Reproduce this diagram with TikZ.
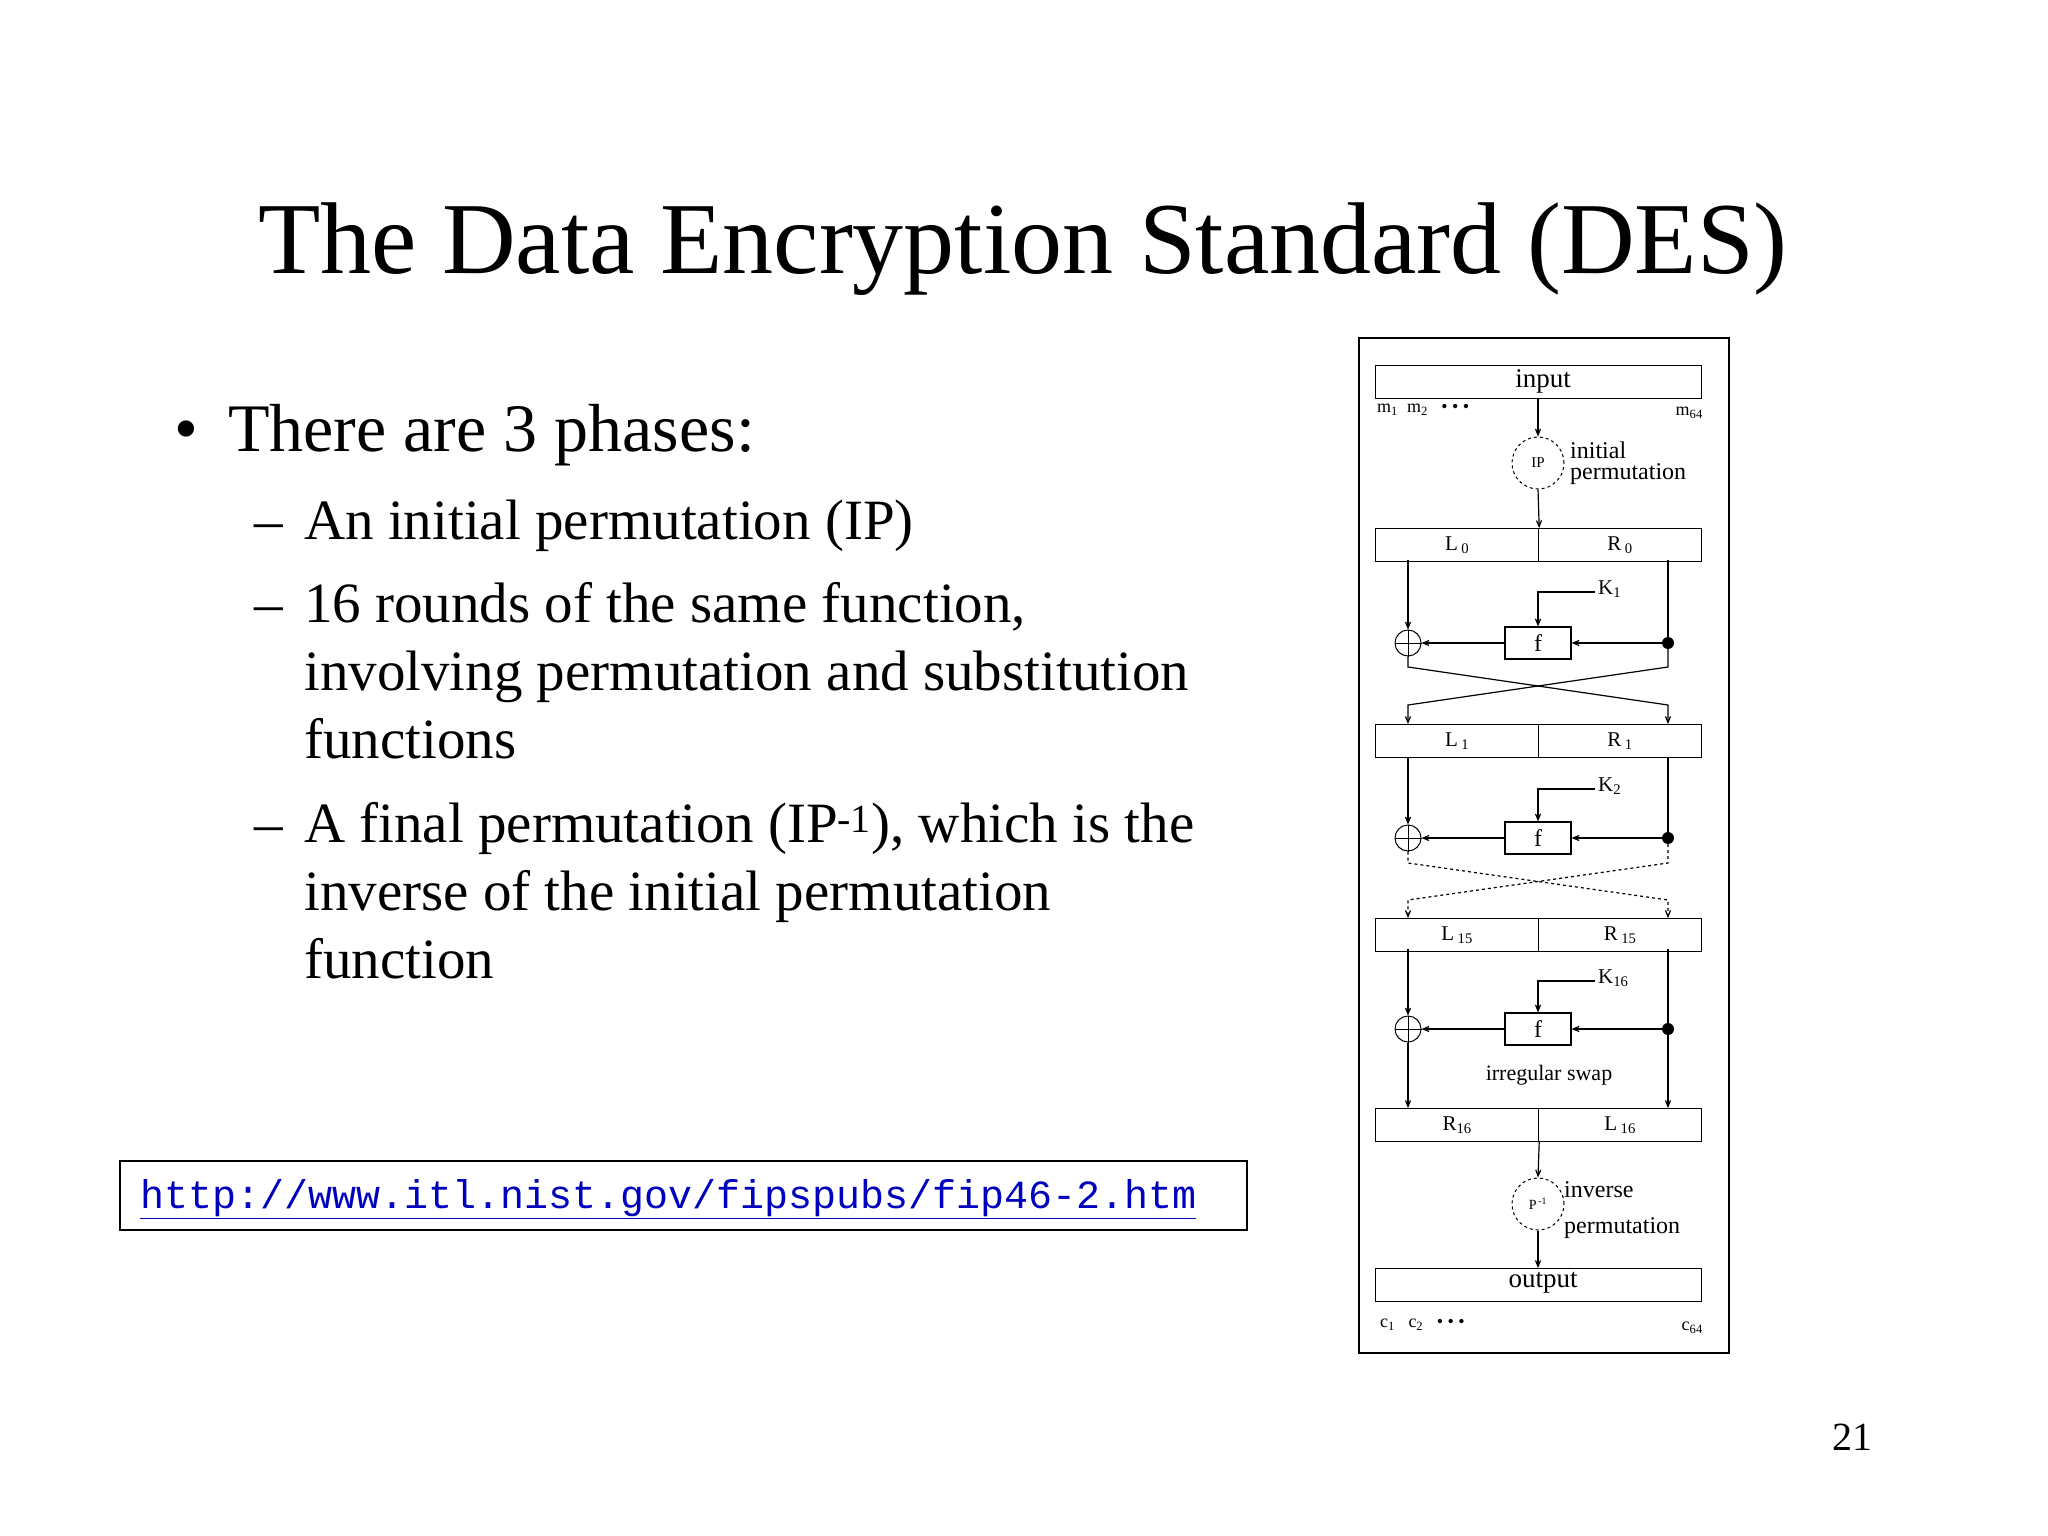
\documentclass[tikz,border=0pt]{standalone}
\usepackage{fontspec}
\setmainfont{Liberation Serif}
\setmonofont{Liberation Mono}
\usetikzlibrary{arrows.meta}
\begin{document}
\begin{tikzpicture}[x=1pt,y=-1pt,
  bx/.style={draw,line width=1.2pt,minimum height=33pt,inner sep=0pt,anchor=north west},
  half/.style={draw,line width=1.2pt,minimum height=33pt,minimum width=163pt,inner sep=0pt,anchor=north west,font=\fontsize{21}{21}\selectfont},
  ln/.style={line width=1.2pt},
  ar/.style={line width=1.2pt,-{Straight Barb[length=6pt,width=5pt]}},
  sm/.style={font=\fontsize{18}{18}\selectfont,inner sep=0pt},
  lbl/.style={font=\fontsize{24}{26}\selectfont,inner sep=1pt,align=left,anchor=west}]
\useasboundingbox (0,0) rectangle (2048,1536);
% slide text
\node (title) at (1023,249) {\fontsize{102}{110}\selectfont The Data Encryption Standard (DES)};
\node[anchor=base west,inner sep=0] (b0) at (174,451) {\fontsize{68}{74}\selectfont •};
\node[anchor=base west,inner sep=0] (t0) at (228,451) {\fontsize{68}{74}\selectfont There are 3 phases:};
\tikzset{sub/.style={anchor=base west,inner sep=0,font=\fontsize{57}{62}\selectfont}}
\node[sub] (d1) at (254,539) {–};
\node[sub] (s1) at (304,539) {An initial permutation (IP)};
\node[sub] (d2) at (254,622) {–};
\node[sub] (s2) at (304,622) {16 rounds of the same function,};
\node[sub] (s2b) at (304,690) {involving permutation and substitution};
\node[sub] (s2c) at (304,758) {functions};
\node[sub] (d3) at (254,842) {–};
\node[sub] (s3) at (304,842) {A final permutation (IP\textsuperscript{-1}), which is the};
\node[sub] (s3b) at (304,910) {inverse of the initial permutation};
\node[sub] (s3c) at (304,978) {function};
\node[draw,line width=1.5pt,minimum width=1127pt,minimum height=69pt,anchor=north west] (ubox) at (119,1160) {};
\node[anchor=west,inner sep=0,text=blue!75!black] (url) at (140,1199) {\fontsize{40}{42}\selectfont\ttfamily\underline{http://www.itl.nist.gov/fipspubs/fip46-2.htm}};
\node (pg) at (1852,1437) {\fontsize{40}{40}\selectfont 21};
% diagram frame
\node[draw,line width=2pt,minimum width=370pt,minimum height=1015pt,anchor=north west,inner sep=0] (frame) at (1358,337) {};
% boxes
\node[bx,minimum width=326pt] (in) at (1375,365) {};
\node[font=\fontsize{27}{27}\selectfont] (intext) at (1543,381) {input};
\node[sm,anchor=west] (m1) at (1377,410) {m\textsubscript{1}\ \ m\textsubscript{2}\ \ \ \textbullet\ \textbullet\ \textbullet};
\node[sm,anchor=east] (m64) at (1703,413) {m\textsubscript{64}};
\node[draw,dashed,line width=1pt,circle,minimum size=52pt,inner sep=0] (P) at (1538,463) {\fontsize{15}{15}\selectfont IP};
\node[lbl] (ptext) at (1569,463) {initial\\[-5pt]permutation};
\newcommand{\rowbox}[4]{%
 \node[half] (#1l) at (1375,#2) {#3};
 \node[half] (#1r) at (1538,#2) {#4};}
\rowbox{a}{528}{L\,\textsubscript{0}}{R\,\textsubscript{0}}
\rowbox{b}{724}{L\,\textsubscript{1}}{R\,\textsubscript{1}}
\rowbox{c}{918}{L\,\textsubscript{15}}{R\,\textsubscript{15}}
\rowbox{d}{1108}{R\textsubscript{16}}{L\,\textsubscript{16}}
\node[bx,minimum width=326pt] (out) at (1375,1268) {};
\node[font=\fontsize{27}{27}\selectfont] (outtext) at (1543,1283) {output};
\node[sm,anchor=west] (c1) at (1380,1325) {c\textsubscript{1}\ \ \ c\textsubscript{2}\ \ \ \textbullet\ \textbullet\ \textbullet};
\node[sm,anchor=east] (c64) at (1703,1328) {c\textsubscript{64}};
\draw[ar] (in.south -| P) -- (P.north);
\draw[ar] (P.south) -- (al.north east);
% rounds
\newcommand{\desround}[5]{%
 \node[draw,line width=1.2pt,minimum width=66pt,minimum height=32pt,inner sep=0,font=\fontsize{24}{24}\selectfont] (f#1) at (1538,#4) {f};
 \node[draw,circle,line width=1pt,minimum size=26pt,inner sep=0] (x#1) at (1408,#4) {};
 \draw[line width=1pt] (x#1.north) -- (x#1.south) (x#1.west) -- (x#1.east);
 \fill (1668,#4) circle (6pt);
 \coordinate (dot#1) at (1668,#4);
 \coordinate (k#1) at (1595,#3);
 \node[anchor=west,inner sep=0,font=\fontsize{21}{21}\selectfont] (kl#1) at (1598,#3-3) {#5};
 \draw[ar] (k#1) -- (1538,#3) -- (f#1.north);
 \draw[ar] (1408,#2) -- (x#1.north);
 \draw[ln] (1668,#2) -- (dot#1);
 \draw[ar] (dot#1) -- (f#1.east);
 \draw[ar] (f#1.west) -- (x#1.east);
}
\desround{1}{560}{592}{643}{K\textsubscript{1}}
\desround{2}{757}{789}{838}{K\textsubscript{2}}
\desround{3}{949}{981}{1029}{K\textsubscript{16}}
% crossings
\draw[ar] (x1.south) -- (1408,667) -- (1668,705) -- (1668,724);
\draw[ar] (dot1) -- (1668,667) -- (1408,705) -- (1408,724);
\draw[ar,dashed] (x2.south) -- (1408,863) -- (1668,900) -- (1668,918);
\draw[ar,dashed] (dot2) -- (1668,863) -- (1408,900) -- (1408,918);
\draw[ar] (x3.south) -- (1408,1108);
\draw[ar] (dot3) -- (1668,1108);
\node[font=\fontsize{22}{22}\selectfont] (sw) at (1549,1075) {irregular swap};
\node[draw,dashed,line width=1pt,circle,minimum size=52pt,inner sep=0] (Pi) at (1538,1204) {\fontsize{14}{14}\selectfont P\textsuperscript{\,-1}};
\node[lbl] (pitext) at (1563,1210) {inverse\\[10pt]permutation};
\draw[ar] (dl.south east) -- (Pi.north);
\draw[ar] (Pi.south) -- (out.north -| Pi);
\end{tikzpicture}
\end{document}
